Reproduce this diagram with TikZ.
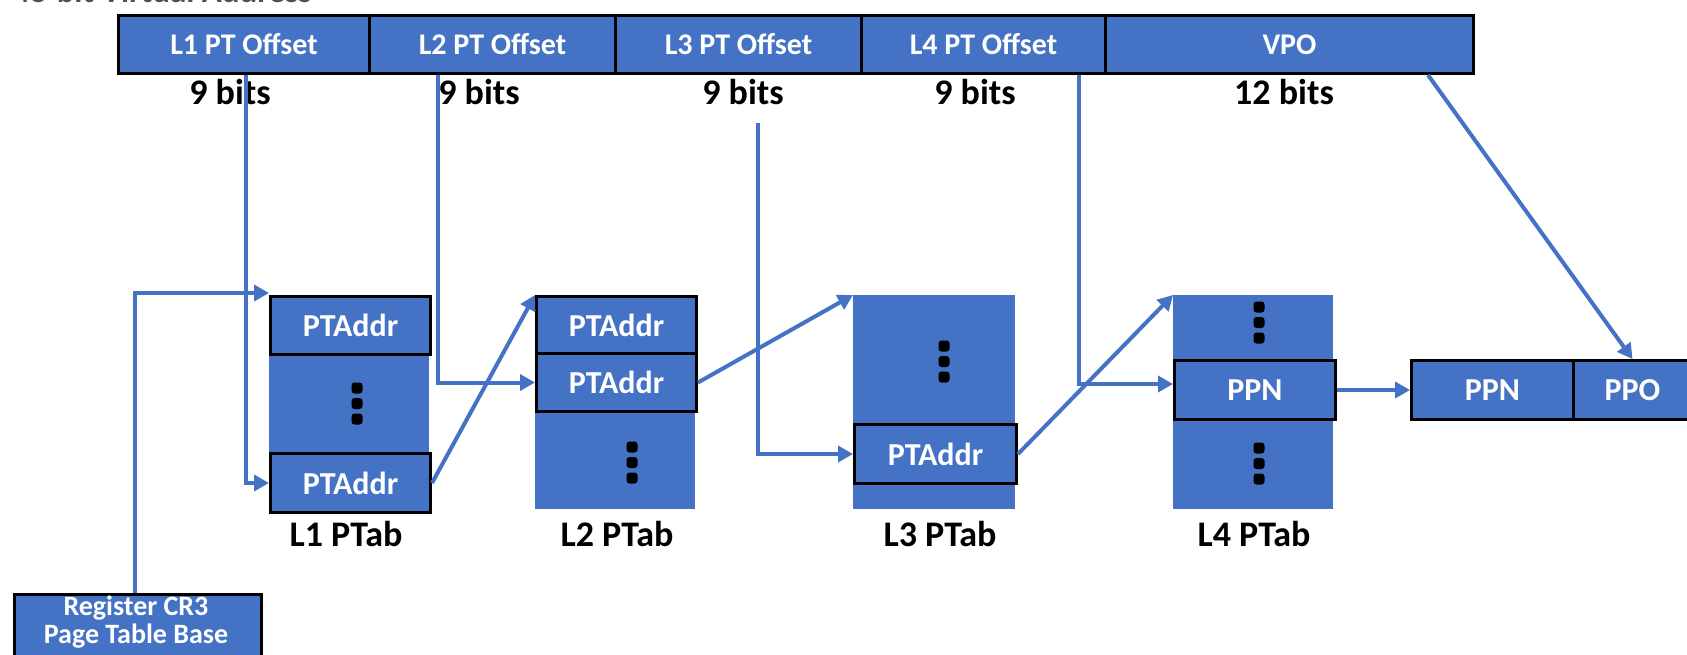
\documentclass[tikz,border=0pt]{standalone}
\usepackage{fontspec}
\setmainfont{Carlito}
\usetikzlibrary{arrows.meta,calc}
\definecolor{officeblue}{HTML}{4472C4}
\definecolor{titlegray}{HTML}{505050}
\newcommand\vaFieldFont{\fontsize{30}{34}\selectfont\bfseries}
\newcommand\vaCellFont{\fontsize{32}{36}\selectfont\bfseries}
\newcommand\vaCaptionFont{\fontsize{36}{40}\selectfont\bfseries}
\newcommand\vaRegFont{\fontsize{28}{28}\selectfont\bfseries}
% three stacked dots standing for omitted table entries
\newcommand\vaDots[2]{%
  \foreach \k in {0,1,2}
    \fill[black,rounded corners=3pt] ({#1-5.5},{#2+\k*15.5-5.5}) rectangle ({#1+5.5},{#2+\k*15.5+5.5});}
\begin{document}
\begin{tikzpicture}[x=1pt,y=-1pt,
  cell/.style={draw=black, line width=3pt, fill=officeblue, text=white,
    font=\vaCellFont, inner sep=0pt, anchor=north west},
  field/.style={cell, font=\vaFieldFont},
  block/.style={fill=officeblue, draw=none, inner sep=0pt, anchor=north west},
  regtext/.style={text=white, font=\vaRegFont, inner sep=0pt, anchor=base},
  caption/.style={text=black, font=\vaCaptionFont, inner sep=0pt, anchor=base},
  wire/.style={draw=officeblue, line width=4pt},
  link/.style={wire, -{Triangle[length=15pt,width=16pt]}},
]
\useasboundingbox (0,0) rectangle (1687,654);
\clip (0,0) rectangle (1687,654);

% title above the address fields
\node[anchor=base west, text=titlegray, font=\fontsize{33}{38}\selectfont\bfseries, inner sep=0pt] (title) at (13,2.5) {48-bit Virtual Address};

% virtual address fields
\node[field, minimum width=251pt, minimum height=58pt] (off1) at (117,14) {L1 PT Offset};
\node[field, minimum width=246pt, minimum height=58pt] (off2) at (368,14) {L2 PT Offset};
\node[field, minimum width=246pt, minimum height=58pt] (off3) at (614,14) {L3 PT Offset};
\node[field, minimum width=244pt, minimum height=58pt] (off4) at (860,14) {L4 PT Offset};
\node[field, minimum width=368pt, minimum height=58pt] (vpo) at (1104,14) {VPO};

% field widths
\node[caption] (bits1) at (230,104) {9 bits};
\node[caption] (bits2) at (479,104) {9 bits};
\node[caption] (bits3) at (743,104) {9 bits};
\node[caption] (bits4) at (975,104) {9 bits};
\node[caption] (bits5) at (1284,104) {12 bits};

% level 1 table
\node[block, minimum width=160pt, minimum height=216pt] (l1tab) at (269,295) {};
\node[cell, minimum width=160pt, minimum height=58pt] (l1a) at (269,295) {PTAddr};
\node[cell, minimum width=160pt, minimum height=59pt] (l1b) at (269,452) {PTAddr};
\vaDots{357}{388}
\node[caption] (cap1) at (346,546) {L1 PTab};

% level 2 table
\node[block, minimum width=160pt, minimum height=214pt] (l2tab) at (535,295) {};
\node[cell, minimum width=160pt, minimum height=57pt] (l2a) at (535,295) {PTAddr};
\node[cell, minimum width=160pt, minimum height=58pt] (l2b) at (535,352) {PTAddr};
\vaDots{632}{447}
\node[caption] (cap2) at (617,546) {L2 PTab};

% level 3 table
\node[block, minimum width=162pt, minimum height=214pt] (l3tab) at (853,295) {};
\node[cell, minimum width=162pt, minimum height=59pt] (l3a) at (853,423) {PTAddr};
\vaDots{944}{346}
\node[caption] (cap3) at (940,546) {L3 PTab};

% level 4 table
\node[block, minimum width=160pt, minimum height=214pt] (l4tab) at (1173,295) {};
\node[cell, minimum width=161pt, minimum height=59pt] (l4a) at (1173,359) {PPN};
\vaDots{1259}{307}
\vaDots{1259}{448}
\node[caption] (cap4) at (1254,546) {L4 PTab};

% physical address
\node[cell, minimum width=162pt, minimum height=59pt] (pppn) at (1410,359) {PPN};
\node[cell, minimum width=118pt, minimum height=59pt] (pppo) at (1572,359) {PPO};

% page table base register
\node[cell, minimum width=247pt, minimum height=90pt] (cr3) at (13,593) {};
\node[regtext] (cr3a) at (136,615) {Register CR3};
\node[regtext] (cr3b) at (136,643) {Page Table Base};

% start of the third offset line, just under its width label
\coordinate (l3start) at (758,123);

% connectors
\draw[link] (cr3.north -| 135,0) |- ([yshift=2pt]l1tab.north west);
\draw[link] ([xshift=2pt]off1.south) |- (l1b.west);
\draw[link] (l1b.east) -- (l2tab.north west);
\draw[link] ([xshift=70pt]off2.south west) |- (l2b.west);
\draw[link] (l2b.east) -- (l3tab.north west);
\draw[link] (l3start) |- (l3a.west);
\draw[link] (l3a.east) -- (l4tab.north west);
\draw[link] ([xshift=-28pt]off4.south east) |- ([yshift=6pt]l4a.west);
\draw[link] (l4a.east) -- (pppn.west);
\draw[link] ([xshift=-47pt]vpo.south east) -- (pppo.north);
\end{tikzpicture}
\end{document}
